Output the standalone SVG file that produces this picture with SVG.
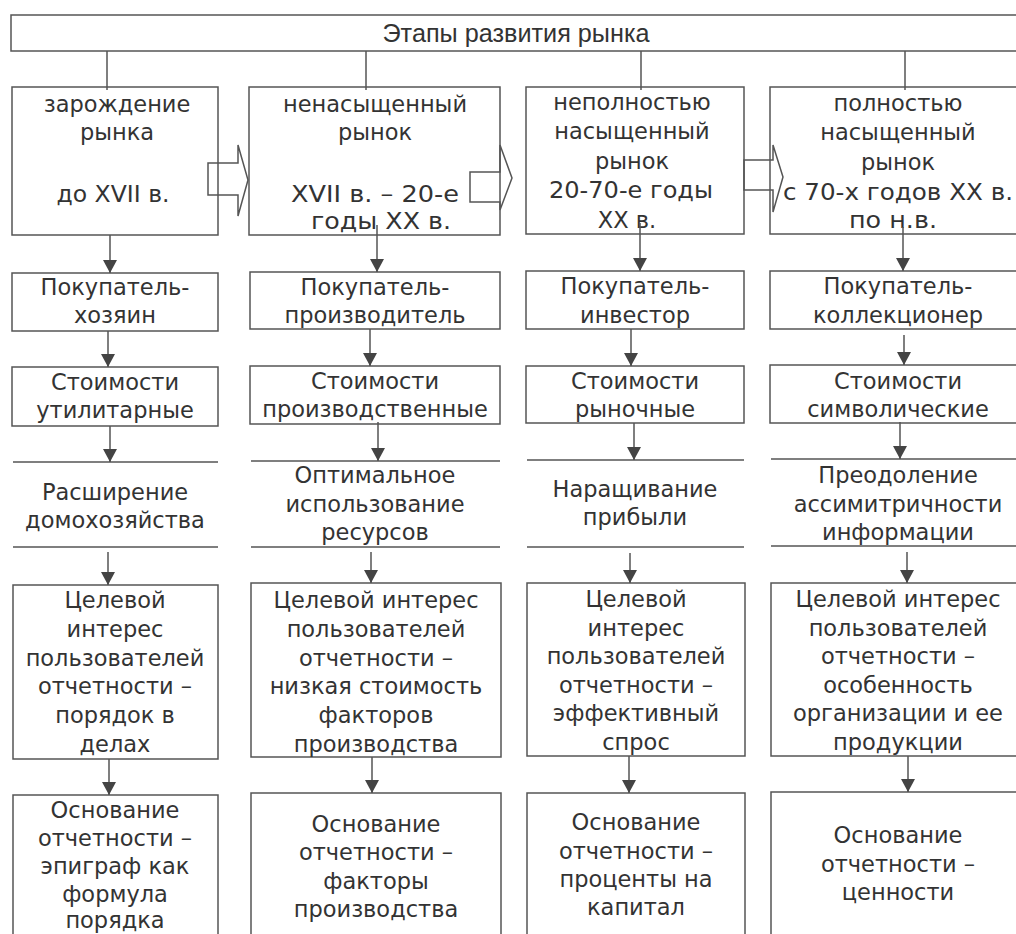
<svg xmlns="http://www.w3.org/2000/svg" width="1016" height="934" viewBox="0 0 1016 934">
<style>
.b{fill:none;stroke:#555;stroke-width:1.5}
.ln{stroke:#555;stroke-width:1.5;fill:none}
.ar{stroke:#555;stroke-width:1.5;fill:none;marker-end:url(#ah)}
.t{font-family:"DejaVu Sans",sans-serif;font-size:22.5px;fill:#333;text-anchor:middle}
.h{font-family:"Liberation Sans",sans-serif;font-size:25px;fill:#333;text-anchor:middle}
.blk{fill:none;stroke:#555;stroke-width:1.5;stroke-linejoin:miter}
</style>
<defs>
<marker id="ah" viewBox="0 0 13 14" refX="13" refY="7" markerWidth="13" markerHeight="14" markerUnits="userSpaceOnUse" orient="auto">
<path d="M0,0 L13,7 L0,14 z" fill="#444"/>
</marker>
</defs>
<rect width="1016" height="934" fill="#fff"/>

<g id="header">
<rect class="b" x="11" y="15" width="1020" height="36"/>
<text class="h" x="516" y="42" textLength="267" lengthAdjust="spacingAndGlyphs">Этапы развития рынка</text>
</g>

<g id="stage1">
<rect class="b" x="12" y="87" width="206" height="148"/>
<text class="t" x="117" y="112">зарождение</text>
<text class="t" x="117" y="140">рынка</text>
<text class="t" x="113" y="202" textLength="113" lengthAdjust="spacingAndGlyphs">до XVII в.</text>
</g>
<g id="stage2">
<rect class="b" x="249" y="87" width="251" height="148"/>
<text class="t" x="375" y="112">ненасыщенный</text>
<text class="t" x="375" y="140">рынок</text>
<text class="t" x="375" y="202" textLength="168" lengthAdjust="spacingAndGlyphs">XVII в. – 20-е</text>
<text class="t" x="381" y="229" textLength="140" lengthAdjust="spacingAndGlyphs">годы XX в.</text>
</g>
<g id="stage3">
<rect class="b" x="526" y="87" width="218" height="147"/>
<text class="t" x="632" y="110">неполностью</text>
<text class="t" x="632" y="139">насыщенный</text>
<text class="t" x="632" y="169">рынок</text>
<text class="t" x="631" y="198" textLength="164" lengthAdjust="spacingAndGlyphs">20-70-е годы</text>
<text class="t" x="627" y="228">XX в.</text>
</g>
<g id="stage4">
<rect class="b" x="770" y="87" width="260" height="147"/>
<text class="t" x="898" y="111">полностью</text>
<text class="t" x="898" y="140">насыщенный</text>
<text class="t" x="898" y="170">рынок</text>
<text class="t" x="898" y="200" textLength="230" lengthAdjust="spacingAndGlyphs">с 70-х годов XX в.</text>
<text class="t" x="893" y="228" textLength="88" lengthAdjust="spacingAndGlyphs">по н.в.</text>
</g>

<g id="buyer1">
<rect class="b" x="12" y="273" width="206" height="58"/>
<text class="t" x="115" y="295">Покупатель-</text>
<text class="t" x="115" y="323">хозяин</text>
</g>
<g id="buyer2">
<rect class="b" x="250" y="272" width="250" height="57"/>
<text class="t" x="375" y="295">Покупатель-</text>
<text class="t" x="375" y="323">производитель</text>
</g>
<g id="buyer3">
<rect class="b" x="526" y="271" width="218" height="58"/>
<text class="t" x="635" y="294">Покупатель-</text>
<text class="t" x="635" y="323">инвестор</text>
</g>
<g id="buyer4">
<rect class="b" x="770" y="271" width="260" height="58"/>
<text class="t" x="898" y="294">Покупатель-</text>
<text class="t" x="898" y="323">коллекционер</text>
</g>

<g id="value1">
<rect class="b" x="12" y="367" width="206" height="59"/>
<text class="t" x="115" y="390">Стоимости</text>
<text class="t" x="115" y="418">утилитарные</text>
</g>
<g id="value2">
<rect class="b" x="250" y="366" width="250" height="58"/>
<text class="t" x="375" y="389">Стоимости</text>
<text class="t" x="375" y="417">производственные</text>
</g>
<g id="value3">
<rect class="b" x="526" y="366" width="218" height="57"/>
<text class="t" x="635" y="389">Стоимости</text>
<text class="t" x="635" y="417">рыночные</text>
</g>
<g id="value4">
<rect class="b" x="770" y="365" width="260" height="58"/>
<text class="t" x="898" y="389">Стоимости</text>
<text class="t" x="898" y="417">символические</text>
</g>

<g id="goal1">
<line class="ln" x1="13" y1="462" x2="218" y2="462"/>
<line class="ln" x1="13" y1="547" x2="218" y2="547"/>
<text class="t" x="115" y="500">Расширение</text>
<text class="t" x="115" y="528">домохозяйства</text>
</g>
<g id="goal2">
<line class="ln" x1="251" y1="461" x2="500" y2="461"/>
<line class="ln" x1="251" y1="547" x2="500" y2="547"/>
<text class="t" x="375" y="483">Оптимальное</text>
<text class="t" x="375" y="512">использование</text>
<text class="t" x="375" y="540">ресурсов</text>
</g>
<g id="goal3">
<line class="ln" x1="527" y1="460" x2="744" y2="460"/>
<line class="ln" x1="527" y1="547" x2="744" y2="547"/>
<text class="t" x="635" y="497">Наращивание</text>
<text class="t" x="635" y="525">прибыли</text>
</g>
<g id="goal4">
<line class="ln" x1="771" y1="459" x2="1016" y2="459"/>
<line class="ln" x1="771" y1="546" x2="1016" y2="546"/>
<text class="t" x="898" y="483">Преодоление</text>
<text class="t" x="898" y="512">ассимитричности</text>
<text class="t" x="898" y="540">информации</text>
</g>

<g id="interest1">
<rect class="b" x="13" y="585" width="205" height="174"/>
<text class="t" x="115" y="608">Целевой</text>
<text class="t" x="115" y="637">интерес</text>
<text class="t" x="115" y="666">пользователей</text>
<text class="t" x="115" y="694">отчетности –</text>
<text class="t" x="115" y="723">порядок в</text>
<text class="t" x="115" y="752">делах</text>
</g>
<g id="interest2">
<rect class="b" x="251" y="583" width="250" height="174"/>
<text class="t" x="376" y="608">Целевой интерес</text>
<text class="t" x="376" y="637">пользователей</text>
<text class="t" x="376" y="666">отчетности –</text>
<text class="t" x="376" y="694">низкая стоимость</text>
<text class="t" x="376" y="723">факторов</text>
<text class="t" x="376" y="752">производства</text>
</g>
<g id="interest3">
<rect class="b" x="527" y="583" width="218" height="173"/>
<text class="t" x="636" y="607">Целевой</text>
<text class="t" x="636" y="636">интерес</text>
<text class="t" x="636" y="664">пользователей</text>
<text class="t" x="636" y="693">отчетности –</text>
<text class="t" x="636" y="721">эффективный</text>
<text class="t" x="636" y="750">спрос</text>
</g>
<g id="interest4">
<rect class="b" x="771" y="583" width="260" height="173"/>
<text class="t" x="898" y="607">Целевой интерес</text>
<text class="t" x="898" y="636">пользователей</text>
<text class="t" x="898" y="664">отчетности –</text>
<text class="t" x="898" y="693">особенность</text>
<text class="t" x="898" y="721">организации и ее</text>
<text class="t" x="898" y="750">продукции</text>
</g>

<g id="basis1">
<rect class="b" x="13" y="795" width="205" height="160"/>
<text class="t" x="115" y="818">Основание</text>
<text class="t" x="115" y="846">отчетности –</text>
<text class="t" x="115" y="874">эпиграф как</text>
<text class="t" x="115" y="902">формула</text>
<text class="t" x="115" y="928">порядка</text>
</g>
<g id="basis2">
<rect class="b" x="251" y="793" width="250" height="160"/>
<text class="t" x="376" y="832">Основание</text>
<text class="t" x="376" y="860">отчетности –</text>
<text class="t" x="376" y="889">факторы</text>
<text class="t" x="376" y="917">производства</text>
</g>
<g id="basis3">
<rect class="b" x="527" y="793" width="218" height="160"/>
<text class="t" x="636" y="830">Основание</text>
<text class="t" x="636" y="859">отчетности –</text>
<text class="t" x="636" y="887">проценты на</text>
<text class="t" x="636" y="915">капитал</text>
</g>
<g id="basis4">
<rect class="b" x="771" y="792" width="260" height="160"/>
<text class="t" x="898" y="843">Основание</text>
<text class="t" x="898" y="872">отчетности –</text>
<text class="t" x="898" y="900">ценности</text>
</g>

<g id="connectors">
<line class="ln" x1="107" y1="51" x2="107" y2="90"/>
<line class="ln" x1="366" y1="51" x2="366" y2="90"/>
<line class="ln" x1="641" y1="51" x2="641" y2="90"/>
<line class="ln" x1="905" y1="51" x2="905" y2="90"/>

<polygon class="blk" points="208,163 238,163 238,145 248,180 238,216 238,195 208,195"/>
<polygon class="blk" points="470,172 500,172 500,145 512,178 500,210 500,202 470,202"/>
<polygon class="blk" points="744,160 773,160 773,145 783,177 773,212 773,190 744,190"/>

<line class="ar" x1="110" y1="235" x2="110" y2="273"/>
<line class="ar" x1="377" y1="225" x2="377" y2="272"/>
<line class="ar" x1="640" y1="223" x2="640" y2="271"/>
<line class="ar" x1="903" y1="227" x2="903" y2="271"/>

<line class="ar" x1="108" y1="331" x2="108" y2="367"/>
<line class="ar" x1="370" y1="329" x2="370" y2="366"/>
<line class="ar" x1="631" y1="329" x2="631" y2="366"/>
<line class="ar" x1="904" y1="335" x2="904" y2="365"/>

<line class="ar" x1="110" y1="426" x2="110" y2="462"/>
<line class="ar" x1="378" y1="422" x2="378" y2="461"/>
<line class="ar" x1="634" y1="423" x2="634" y2="460"/>
<line class="ar" x1="900" y1="422" x2="900" y2="459"/>

<line class="ar" x1="108" y1="552" x2="108" y2="585"/>
<line class="ar" x1="371" y1="552" x2="371" y2="583"/>
<line class="ar" x1="630" y1="553" x2="630" y2="583"/>
<line class="ar" x1="907" y1="552" x2="907" y2="583"/>

<line class="ar" x1="109" y1="759" x2="109" y2="795"/>
<line class="ar" x1="372" y1="757" x2="372" y2="793"/>
<line class="ar" x1="629" y1="756" x2="629" y2="793"/>
<line class="ar" x1="908" y1="756" x2="908" y2="792"/>
</g>
</svg>
